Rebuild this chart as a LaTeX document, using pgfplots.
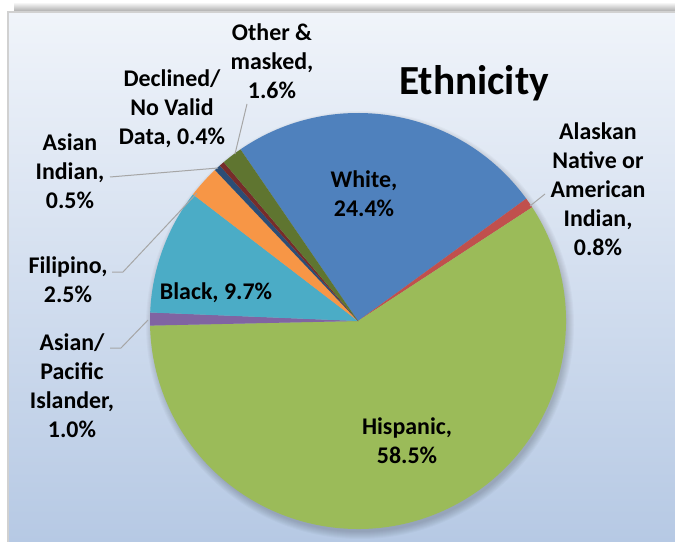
\documentclass[border=0pt]{standalone}
\usepackage{fontspec}
\setmainfont{Carlito}
\usepackage{pgfplots}
\usepackage{pgfplotstable}
\pgfplotsset{compat=1.18}

% Office 2007 palette
\definecolor{cWhite}{HTML}{4F81BD}
\definecolor{cAlaska}{HTML}{C0504D}
\definecolor{cHisp}{HTML}{9BBB59}
\definecolor{cAsPac}{HTML}{8064A2}
\definecolor{cBlack}{HTML}{4BACC6}
\definecolor{cFilip}{HTML}{F79646}
\definecolor{cAsInd}{HTML}{2C4D75}
\definecolor{cDecl}{HTML}{772C2A}
\definecolor{cOther}{HTML}{5F7530}
\definecolor{leader}{HTML}{A6A6A6}

\tikzset{lbl/.style={font=\bfseries\fontsize{24}{29}\selectfont, align=center, inner sep=0pt}}

% slices in clockwise order, starting from the White slice
\pgfplotstableread[col sep=comma]{
label,value,color
White,24.4,cWhite
Alaskan Native or American Indian,0.8,cAlaska
Hispanic,58.5,cHisp
Asian/Pacific Islander,1.0,cAsPac
Black,9.7,cBlack
Filipino,2.5,cFilip
Asian Indian,0.5,cAsInd
Declined/No Valid Data,0.4,cDecl
Other & masked,1.6,cOther
}\ethtbl

\begin{document}
\begin{tikzpicture}
\begin{axis}[
  x=1bp, y=1bp,
  xmin=0, xmax=675, ymin=0, ymax=542,
  y dir=reverse,
  hide axis,
  clip=false,
]
\pgfplotsextra{
  % background and frame
  \fill[white] (axis cs:0,0) rectangle (axis cs:675,542);
  \shade[top color=white, bottom color=black!35] (axis cs:14,2) rectangle (axis cs:675,12);
  \shade[top color={rgb,255:red,240;green,244;blue,250}, bottom color={rgb,255:red,182;green,201;blue,228}]
    (axis cs:8,12) rectangle (axis cs:675,542);
  \draw[black!18, line width=2bp] (axis cs:8,542) -- (axis cs:8,12) -- (axis cs:675,12);
  % soft shadow
  \foreach \s in {1,...,8}{
    \fill[black, opacity=0.025] (axis cs:360,325) circle[radius=206bp+\s bp];
  }
  % slices
  \pgfplotstablegetrowsof{\ethtbl}
  \pgfmathtruncatemacro\nrows{\pgfplotsretval-1}
  \def\tot{0}
  \pgfplotsforeachungrouped \r in {0,...,\nrows}{
    \pgfplotstablegetelem{\r}{value}\of\ethtbl
    \pgfmathsetmacro\tot{\tot+\pgfplotsretval}
  }
  \def\a{124.4}
  \pgfplotsforeachungrouped \r in {0,...,\nrows}{
    \pgfplotstablegetelem{\r}{value}\of\ethtbl \let\v\pgfplotsretval
    \pgfplotstablegetelem{\r}{color}\of\ethtbl \let\c\pgfplotsretval
    \pgfmathsetmacro\b{\a-\v/\tot*360}
    \fill[\c] (axis cs:358,321) -- ++(\a:208bp) arc[start angle=\a, end angle=\b, radius=208bp] -- cycle;
    \let\a\b
  }
  % leader lines
  \draw[leader, line width=1bp] (axis cs:247,104) -- (axis cs:235,154);
  \draw[leader, line width=1bp] (axis cs:110,177) -- (axis cs:218,168);
  \draw[leader, line width=1bp] (axis cs:112,272) -- (axis cs:123,272) -- (axis cs:197,193);
  \draw[leader, line width=1bp] (axis cs:110,348) -- (axis cs:121,348) -- (axis cs:148,320);
  \draw[leader, line width=1bp] (axis cs:530,206) -- (axis cs:545,194);
}
% title
\node[font=\bfseries\fontsize{41.5}{50}\selectfont, anchor=base] at (axis cs:474,95) {Ethnicity};
% data labels
\node[lbl] at (axis cs:272,61) {Other \&\\masked,\\1.6\%};
\node[lbl] at (axis cs:172,109) {Declined/\\No Valid\\Data, 0.4\%};
\node[lbl] at (axis cs:598,189) {Alaskan\\Native or\\American\\Indian,\\0.8\%};
\node[lbl] at (axis cs:364,194) {White,\\24.4\%};
\node[lbl] at (axis cs:70,171) {Asian\\Indian,\\0.5\%};
\node[lbl] at (axis cs:68,280) {Filipino,\\2.5\%};
\node[lbl] at (axis cs:216,293) {Black, 9.7\%};
\node[lbl] at (axis cs:72,386) {Asian/\\Pacific\\Islander,\\1.0\%};
\node[lbl] at (axis cs:407,441) {Hispanic,\\58.5\%};
\end{axis}
\pgfresetboundingbox
\path[use as bounding box] (current axis.south west) rectangle (current axis.north east);
\end{tikzpicture}
\end{document}
